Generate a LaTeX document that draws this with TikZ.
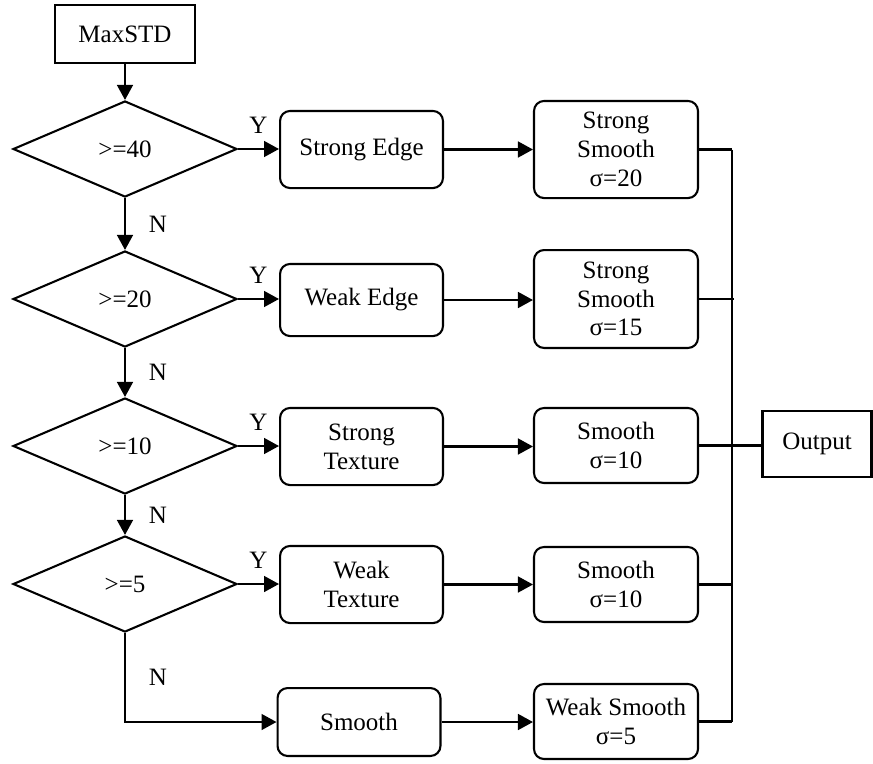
\documentclass[tikz,border=0pt]{standalone}
\usepackage{fontspec}
\setmainfont{Liberation Serif}
\usetikzlibrary{shapes.geometric,arrows.meta}
\tikzset{
	flowbox/.style={draw, line width=1pt, rounded corners=4.8pt, align=center, inner sep=0pt},
	plainbox/.style={draw, line width=1pt, inner sep=0pt},
	test/.style={draw, diamond, line width=1pt, inner sep=0pt, minimum width=107.5pt, minimum height=46.1pt},
	flow/.style={line width=1pt, -{Triangle[length=7.2pt,width=7.6pt]}},
	wire/.style={line width=1pt},
	yn/.style={inner sep=0pt}
}

\begin{document}
\begin{tikzpicture}[x=0.48pt, y=-0.48pt, font=\fontsize{12}{13.8}\selectfont]
			%%%%% START %%%%%
			\useasboundingbox (0, 0) rectangle (873, 763);
			
			\node[plainbox, minimum width=67.2pt, minimum height=27.8pt] (maxstd) at (125, 34) {MaxSTD};
			
			\node[test] (d40) at (125, 149) {>=40};
			\node[test] (d20) at (125, 299) {>=20};
			\node[test] (d10) at (125, 446) {>=10};
			\node[test] (d5) at (125, 584) {>=5};
			
			\node[flowbox, minimum width=78.2pt, minimum height=37pt] (sedge) at (361.5, 149.5) {Strong Edge};
			\node[flowbox, minimum width=78.2pt, minimum height=34.6pt] (wedge) at (361.5, 300) {Weak Edge};
			\node[flowbox, minimum width=78.2pt, minimum height=37pt] (stex) at (361.5, 446.5) {Strong\\Texture};
			\node[flowbox, minimum width=78.2pt, minimum height=37pt] (wtex) at (361.5, 584.5) {Weak\\Texture};
			\node[flowbox, minimum width=78.2pt, minimum height=32.6pt] (smooth) at (359, 722) {Smooth};
			
			\node[flowbox, minimum width=78.7pt, minimum height=46.6pt] (ss20) at (616, 149.5) {Strong\\Smooth\\σ=20};
			\node[flowbox, minimum width=78.7pt, minimum height=47pt] (ss15) at (616, 299) {Strong\\Smooth\\σ=15};
			\node[flowbox, minimum width=78.7pt, minimum height=36pt] (sm10a) at (616, 445.5) {Smooth\\σ=10};
			\node[flowbox, minimum width=78.7pt, minimum height=36pt] (sm10b) at (616, 584.5) {Smooth\\σ=10};
			\node[flowbox, minimum width=78.7pt, minimum height=36pt] (ws5) at (616, 721.5) {Weak Smooth\\σ=5};
			
			\node[plainbox, minimum width=52.3pt, minimum height=31.7pt] (out) at (817, 444) {Output};
			\coordinate (bus) at (732, 0);
			
			% decisions
			\draw[flow] (maxstd) -- (d40);
			\draw[flow] (d40.south) -- node[yn, midway, right=11pt] {N} (d20.north);
			\draw[flow] (d20.south) -- node[yn, midway, right=11pt] {N} (d10.north);
			\draw[flow] (d10.south) -- node[yn, midway, right=11pt] {N} (d5.north);
			\draw[flow] (d5.south) |- node[yn, pos=0.25, right=11pt] {N} (smooth.west);
			
			\draw[flow] (d40.east) -- node[yn, midway, above=7pt] {Y} (d40.east -| sedge.west);
			\draw[flow] (d20.east) -- node[yn, midway, above=7pt] {Y} (d20.east -| wedge.west);
			\draw[flow] (d10.east) -- node[yn, midway, above=7pt] {Y} (d10.east -| stex.west);
			\draw[flow] (d5.east) -- node[yn, midway, above=7pt] {Y} (d5.east -| wtex.west);
			
			% smoothing
			\draw[flow] (sedge.east) -- (sedge.east -| ss20.west);
			\draw[flow] (wedge.east) -- (wedge.east -| ss15.west);
			\draw[flow] (stex.east) -- (stex.east -| sm10a.west);
			\draw[flow] (wtex.east) -- (wtex.east -| sm10b.west);
			\draw[flow] (smooth.east) -- (smooth.east -| ws5.west);
			
			% to output
			\draw[wire] (ss20.east) -- (ss20.east -| bus);
			\draw[wire] (ss15.east) -- ([xshift=1pt]ss15.east -| bus);
			\draw[wire] (sm10a.east) -- (sm10a.east -| out.west);
			\draw[wire] (sm10b.east) -- (sm10b.east -| bus);
			\draw[wire] (ws5.east) -- (ws5.east -| bus);
			\draw[wire] (ss20.east -| bus) -- (ws5.east -| bus);
			
			%%%%% END %%%%%
		\end{tikzpicture}
\end{document}
